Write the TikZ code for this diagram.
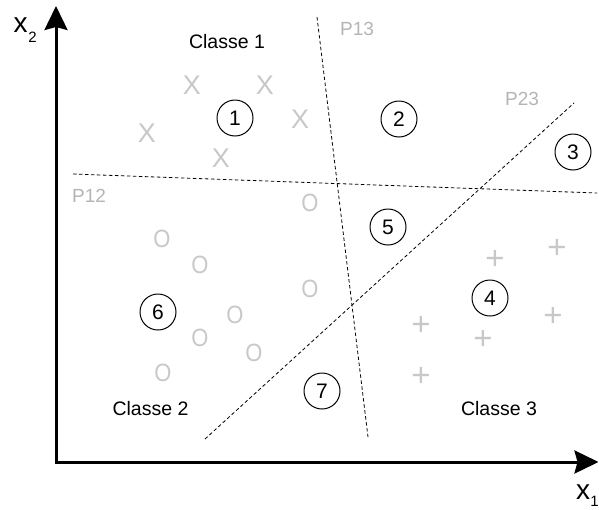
\documentclass[tikz,border=0pt]{standalone}
\usepackage{fontspec}
\setmainfont{Liberation Sans}
\usetikzlibrary{arrows.meta}
\definecolor{markgray}{RGB}{200,200,200}
\definecolor{labgray}{RGB}{180,180,180}
\begin{document}
\begin{tikzpicture}[x=1pt,y=-1pt,
  region/.style={circle,draw,line width=1pt,minimum size=36pt,inner sep=0pt,font=\fontsize{21}{21}\selectfont},
  classlab/.style={font=\fontsize{19.5}{19.5}\selectfont,inner sep=0pt},
  planelab/.style={font=\fontsize{19}{19}\selectfont,text=labgray,inner sep=0pt},
  smark/.style={font=\fontsize{27}{27}\selectfont,text=markgray,inner sep=0pt},
  pmark/.style={font=\fontsize{33}{33}\selectfont,text=markgray,inner sep=0pt},
  omark/.style={font=\fontsize{25}{25}\selectfont,text=markgray,inner sep=0pt,xscale=0.88},
  axislab/.style={font=\fontsize{28}{28}\selectfont,inner sep=0pt},
  sublab/.style={font=\fontsize{15}{15}\selectfont,inner sep=0pt},
  sep/.style={dash pattern=on 3.5pt off 2.5pt,line width=0.8pt},
  axis/.style={line width=3pt,miter limit=10,
    {Stealth[length=24pt,width=23pt,inset=3pt]}-{Stealth[length=24pt,width=23pt,inset=3pt]}}
]
\useasboundingbox (0,0) rectangle (599,509);
% axes
\coordinate (ytip) at (56,6);
\coordinate (xtip) at (598.5,462);
\draw[axis] (ytip) |- (xtip);
\node[axislab] (x2) at (20.5,25) {x};
\node[sublab] (x2s) at (32.5,37.5) {2};
\node[axislab] (x1) at (583,492) {x};
\node[sublab] (x1s) at (594.5,501.5) {1};
% separating planes
\coordinate (p12a) at (73,174);
\coordinate (p12b) at (597,193);
\coordinate (p13a) at (317,17);
\coordinate (p13b) at (368,437);
\coordinate (p23a) at (205,439);
\coordinate (p23b) at (574,103);
\draw[sep] (p12a) -- (p12b);
\draw[sep] (p13a) -- (p13b);
\draw[sep] (p23a) -- (p23b);
\node[planelab] (lp12) at (89,196) {P12};
\node[planelab] (lp13) at (357,29) {P13};
\node[planelab] (lp23) at (522,99) {P23};
% class labels
\node[classlab] (c1) at (227,41.5) {Classe 1};
\node[classlab] (c2) at (150.5,408.5) {Classe 2};
\node[classlab] (c3) at (499,408.5) {Classe 3};
% regions
\node[region] (r1) at (235,118) {1};
\node[region] (r2) at (399,119) {2};
\node[region] (r3) at (573,152) {3};
\node[region] (r4) at (490,298) {4};
\node[region] (r5) at (388,227) {5};
\node[region] (r6) at (158,312) {6};
\node[region] (r7) at (322,391) {7};
% class 1 samples
\node[smark] (xa) at (192,85) {X};
\node[smark] (xb) at (265,85) {X};
\node[smark] (xc) at (147,133) {X};
\node[smark] (xd) at (221,158) {X};
\node[smark] (xe) at (300,119) {X};
% class 2 samples
\node[omark] (oa) at (310,203) {O};
\node[omark] (ob) at (162,239) {O};
\node[omark] (oc) at (200,265) {O};
\node[omark] (od) at (310,289) {O};
\node[omark] (oe) at (235,315) {O};
\node[omark] (of) at (200,338) {O};
\node[omark] (og) at (254,353) {O};
\node[omark] (oh) at (163,373) {O};
% class 3 samples
\node[pmark] (pa) at (495,260) {+};
\node[pmark] (pb) at (557,249) {+};
\node[pmark] (pc) at (421,326) {+};
\node[pmark] (pd) at (483,340) {+};
\node[pmark] (pe) at (553,317) {+};
\node[pmark] (pf) at (421,377) {+};
\end{tikzpicture}
\end{document}
